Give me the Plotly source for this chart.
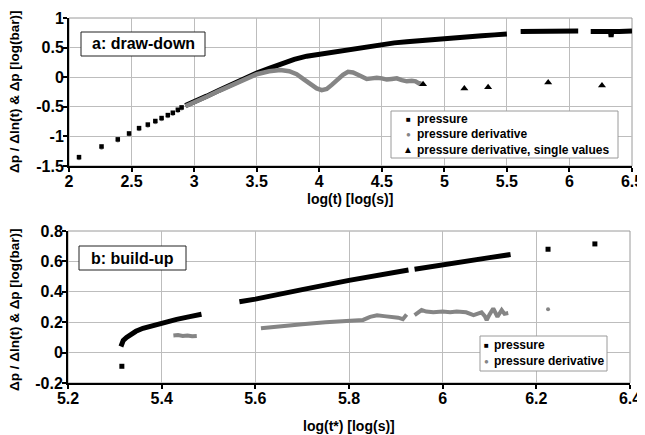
import plotly.graph_objects as go

# ---------------- data: (a) draw-down ----------------
a_p_sparse_x = [2.08, 2.26, 2.39, 2.48, 2.56, 2.63, 2.69, 2.74, 2.79, 2.83, 2.87, 2.90]
a_p_sparse_y = [-1.35, -1.17, -1.05, -0.95, -0.86, -0.80, -0.74, -0.69, -0.64, -0.60, -0.55, -0.51]
a_d_sparse_y = [-1.37, -1.19, -1.07, -0.97, -0.88, -0.82, -0.76, -0.71, -0.66, -0.62, -0.57, -0.53]

a_p_line_x = [2.93, 3.0, 3.1, 3.2, 3.3, 3.4, 3.5, 3.6, 3.7, 3.8, 3.9, 4.0, 4.1, 4.2, 4.3, 4.4,
              4.5, 4.6, 4.7, 4.8, 4.9, 5.0, 5.1, 5.2, 5.3, 5.4, 5.5, None,
              5.61, 5.7, 5.8, 5.9, 6.0, 6.07, None,
              6.17, 6.25, 6.30, 6.328, 6.333, 6.338, 6.4, 6.5]
a_p_line_y = [-0.48, -0.42, -0.32, -0.22, -0.12, -0.02, 0.07, 0.15, 0.23, 0.30, 0.355, 0.39, 0.42, 0.45, 0.49, 0.52,
              0.555, 0.58, 0.60, 0.62, 0.64, 0.655, 0.67, 0.685, 0.70, 0.715, 0.73, None,
              0.77, 0.775, 0.77, 0.775, 0.78, 0.78, None,
              0.77, 0.78, 0.77, 0.77, 0.68, 0.77, 0.77, 0.78]

a_d_line_x = [2.93, 3.0, 3.1, 3.2, 3.3, 3.4, 3.5, 3.6, 3.69, 3.76, 3.82, 3.88, 3.93, 3.98, 4.02, 4.06,
              4.10, 4.14, 4.19, 4.23, 4.27, 4.31, 4.35, 4.38, 4.42, 4.46, 4.50, 4.54, 4.58, 4.62,
              4.66, 4.70, 4.74, 4.77, 4.80, 4.82]
a_d_line_y = [-0.49, -0.43, -0.33, -0.23, -0.13, -0.04, 0.05, 0.10, 0.12, 0.10, 0.05, -0.04, -0.11, -0.19, -0.22, -0.20,
              -0.13, -0.05, 0.04, 0.09, 0.08, 0.04, 0.0, -0.03, -0.02, -0.01, -0.02, -0.04, -0.03, -0.02,
              -0.05, -0.07, -0.06, -0.07, -0.11, -0.10]

a_single_x = [4.83, 5.16, 5.35, 5.83, 6.26]
a_single_y = [-0.12, -0.19, -0.17, -0.09, -0.14]

# ---------------- data: (b) build-up ----------------
b_p_line_x = [5.313, 5.318, 5.325, 5.332, 5.345, 5.36, 5.38, 5.396, 5.415, 5.432, 5.46, 5.485, None,
              5.566, 5.6, 5.7, 5.8, 5.927, None,
              5.94, 6.0, 6.1, 6.145]
b_p_line_y = [0.04, 0.08, 0.10, 0.116, 0.14, 0.16, 0.178, 0.19, 0.205, 0.219, 0.237, 0.252, None,
              0.335, 0.352, 0.414, 0.475, 0.543, None,
              0.548, 0.58, 0.625, 0.645]
b_p_single_x = [5.315, 6.225, 6.325]
b_p_single_y = [-0.09, 0.68, 0.715]

b_d_line_x = [5.425, 5.435, 5.445, 5.455, 5.465, 5.475, None,
              5.612, 5.65, 5.70, 5.75, 5.80, 5.83, 5.845, 5.86, 5.875, 5.89, 5.905, 5.915, 5.923, None,
              5.94, 5.95, 5.955, 5.965, 5.98, 6.0, 6.016, 6.03, 6.05, 6.066, 6.075, 6.083, 6.09,
              6.094, 6.10, 6.108, 6.117, 6.126, 6.132, 6.14]
b_d_line_y = [0.112, 0.115, 0.11, 0.113, 0.108, 0.11, None,
              0.16, 0.173, 0.187, 0.20, 0.21, 0.215, 0.235, 0.245, 0.24, 0.236, 0.23, 0.22, 0.25, None,
              0.247, 0.265, 0.28, 0.27, 0.265, 0.27, 0.265, 0.27, 0.265, 0.247, 0.26, 0.265, 0.24,
              0.214, 0.25, 0.29, 0.236, 0.28, 0.255, 0.26]
b_d_single_x = [6.225]
b_d_single_y = [0.285]

# ---------------- tick labels / texts ----------------
a_xticks = [2, 2.5, 3, 3.5, 4, 4.5, 5, 5.5, 6, 6.5]
a_xtext = ["2", "2.5", "3", "3.5", "4", "4.5", "5", "5.5", "6", "6.5"]
a_yticks = [-1.5, -1, -0.5, 0, 0.5, 1]
a_ytext = ["-1.5", "-1", "-0.5", "0", "0.5", "1"]
b_xticks = [5.2, 5.4, 5.6, 5.8, 6.0, 6.2, 6.4]
b_xtext = ["5.2", "5.4", "5.6", "5.8", "6", "6.2", "6.4"]
b_yticks = [-0.2, 0, 0.2, 0.4, 0.6, 0.8]
b_ytext = ["-0.2", "0", "0.2", "0.4", "0.6", "0.8"]
a_legend_names = ["pressure", "pressure derivative", "pressure derivative, single values"]
b_legend_names = ["pressure", "pressure derivative"]

BLACK = "#000000"
GREY = "#858585"
FONT = "Liberation Sans, Arial, sans-serif"

# page has an 8px body margin; figure is sized to fit the 645x435 window
W, H, OFF = 637, 427, 8


def X(px):
    return (px - OFF) / W


def Y(py):
    return 1 - (py - OFF) / H


fig = go.Figure()

# (a) traces
fig.add_trace(go.Scatter(x=a_p_sparse_x, y=a_d_sparse_y, mode="markers", name=a_legend_names[1],
                         marker=dict(symbol="circle", size=4, color=GREY), xaxis="x", yaxis="y",
                         showlegend=False))
fig.add_trace(go.Scatter(x=a_p_sparse_x, y=a_p_sparse_y, mode="markers", name=a_legend_names[0],
                         marker=dict(symbol="square", size=4.5, color=BLACK), xaxis="x", yaxis="y",
                         showlegend=False))
fig.add_trace(go.Scatter(x=a_p_line_x, y=a_p_line_y, mode="lines", line=dict(color=BLACK, width=5),
                         showlegend=False, connectgaps=False, xaxis="x", yaxis="y"))
fig.add_trace(go.Scatter(x=a_d_line_x, y=a_d_line_y, mode="lines", line=dict(color=GREY, width=4.5),
                         showlegend=False, xaxis="x", yaxis="y"))
fig.add_trace(go.Scatter(x=a_single_x, y=a_single_y, mode="markers", name=a_legend_names[2],
                         marker=dict(symbol="triangle-up", size=7, color=BLACK), xaxis="x", yaxis="y",
                         showlegend=False))

# (b) traces
fig.add_trace(go.Scatter(x=b_p_line_x, y=b_p_line_y, mode="lines", line=dict(color=BLACK, width=5),
                         showlegend=False, connectgaps=False, xaxis="x2", yaxis="y2"))
fig.add_trace(go.Scatter(x=b_d_line_x, y=b_d_line_y, mode="lines", line=dict(color=GREY, width=4),
                         showlegend=False, connectgaps=False, xaxis="x2", yaxis="y2"))
fig.add_trace(go.Scatter(x=b_p_single_x, y=b_p_single_y, mode="markers", name=b_legend_names[0],
                         marker=dict(symbol="square", size=5, color=BLACK), xaxis="x2", yaxis="y2",
                         showlegend=False))
fig.add_trace(go.Scatter(x=b_d_single_x, y=b_d_single_y, mode="markers", name=b_legend_names[1],
                         marker=dict(symbol="circle", size=4, color=GREY), xaxis="x2", yaxis="y2",
                         showlegend=False))

axis_common = dict(showgrid=True, gridcolor="#bdbdbd", gridwidth=1, zeroline=False,
                   showline=True, linecolor=BLACK, linewidth=2, ticks="outside", ticklen=4,
                   tickcolor=BLACK, tickwidth=1.5,
                   tickfont=dict(family=FONT, size=16, color=BLACK, weight="bold"))

FRAME = "#9a9a9a"
shapes = [
    dict(type="rect", xref="paper", yref="paper", x0=X(69), x1=X(632), y0=Y(166), y1=Y(18),
         line=dict(color=FRAME, width=1), layer="below"),
    dict(type="rect", xref="paper", yref="paper", x0=X(68), x1=X(630), y0=Y(383), y1=Y(231),
         line=dict(color=FRAME, width=1), layer="below"),
    # panel label boxes
    dict(type="rect", xref="paper", yref="paper", x0=X(81), x1=X(205), y0=Y(56), y1=Y(32),
         line=dict(color="#222222", width=1), fillcolor="white", layer="above"),
    dict(type="rect", xref="paper", yref="paper", x0=X(79), x1=X(186), y0=Y(270), y1=Y(246),
         line=dict(color="#222222", width=1), fillcolor="white", layer="above"),
    # legend boxes
    dict(type="rect", xref="paper", yref="paper", x0=X(391), x1=X(618), y0=Y(158), y1=Y(111),
         line=dict(color=FRAME, width=1), fillcolor="white", layer="above"),
    dict(type="rect", xref="paper", yref="paper", x0=X(480), x1=X(607), y0=Y(371), y1=Y(336),
         line=dict(color=FRAME, width=1), fillcolor="white", layer="above"),
]


def txt(text, x, y, size, xanchor="center", angle=0, color=BLACK, bold=True):
    return dict(text=text, xref="paper", yref="paper", x=x, y=y, xanchor=xanchor, yanchor="middle",
                showarrow=False, textangle=angle,
                font=dict(family=FONT, size=size, color=color, weight="bold" if bold else "normal"))


annotations = [
    txt("a: draw-down", X(143), Y(44), 16),
    txt("b: build-up", X(132.5), Y(258), 16),
    txt("log(t) [log(s)]", X(350), Y(199.5), 14),
    txt("log(t*) [log(s)]", X(349), Y(426), 14),
    txt("Δp / Δln(t) &amp; Δp [log(bar)]", X(14), Y(92), 13.5, angle=-90),
    txt("Δp / Δln(t) &amp; Δp [log(bar)]", X(14), Y(310), 13.5, angle=-90),
    # legend (a)
    txt("■", X(408), Y(119), 8, color=BLACK, bold=False),
    txt("●", X(408), Y(134), 8, color=GREY, bold=False),
    txt("▲", X(408), Y(150), 10, color=BLACK, bold=False),
    txt(a_legend_names[0], X(415), Y(119), 12, xanchor="left"),
    txt(a_legend_names[1], X(415), Y(134), 12, xanchor="left"),
    txt(a_legend_names[2], X(415), Y(150), 12, xanchor="left"),
    # legend (b)
    txt("■", X(486), Y(345), 8, color=BLACK, bold=False),
    txt("●", X(486), Y(361), 8, color=GREY, bold=False),
    txt(b_legend_names[0], X(492), Y(345), 12, xanchor="left"),
    txt(b_legend_names[1], X(492), Y(361), 12, xanchor="left"),
]

fig.update_layout(
    width=W, height=H,
    margin=dict(l=0, r=0, t=0, b=0, autoexpand=False),
    paper_bgcolor="white", plot_bgcolor="white",
    font=dict(family=FONT, color=BLACK),
    showlegend=False,
    xaxis=dict(domain=[X(69), X(632)], range=[2, 6.5], tickvals=a_xticks, ticktext=a_xtext,
               anchor="y", ticklabelstandoff=-4, **axis_common),
    yaxis=dict(domain=[Y(166), Y(18)], range=[-1.5, 1], tickvals=a_yticks, ticktext=a_ytext,
               anchor="x", ticklabelstandoff=-4, **axis_common),
    xaxis2=dict(domain=[X(68), X(630)], range=[5.2, 6.4], tickvals=b_xticks, ticktext=b_xtext,
                anchor="y2", ticklabelstandoff=-4, **axis_common),
    yaxis2=dict(domain=[Y(383), Y(231)], range=[-0.2, 0.8], tickvals=b_yticks, ticktext=b_ytext,
                anchor="x2", ticklabelstandoff=-4, **axis_common),
    shapes=shapes,
    annotations=annotations,
)

fig.write_html("out.html")
